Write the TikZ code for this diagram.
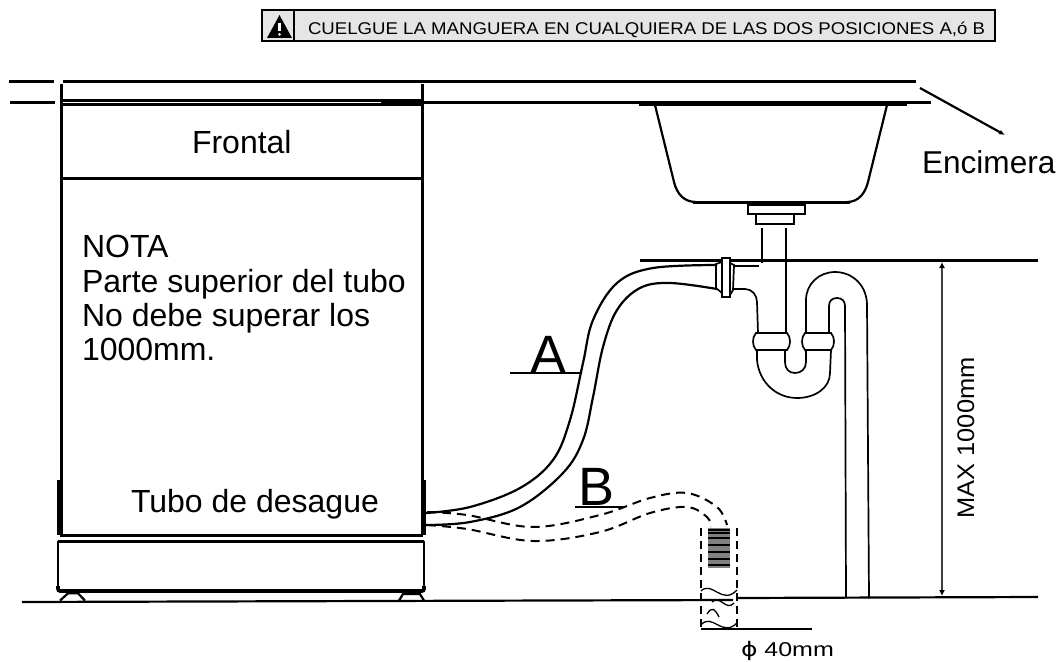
\documentclass[tikz,border=0pt]{standalone}
\usepackage{fontspec}
\usetikzlibrary{arrows.meta}
\setmainfont{Liberation Sans}
\newfontfamily\phifont{DejaVu Sans}
\tikzset{
  heavy/.style={line width=3pt,black},
  medium/.style={line width=2.2pt,black},
  thinline/.style={line width=1.7pt,black},
  dashline/.style={line width=2pt,black,dash pattern=on 9pt off 6pt},
  label/.style={inner sep=0pt,outer sep=0pt,anchor=base west,font=\fontsize{32}{36}\selectfont},
  bigletter/.style={inner sep=0pt,outer sep=0pt,anchor=base west,font=\fontsize{54}{58}\selectfont},
}
\begin{document}
\begin{tikzpicture}[x=1pt,y=-1pt]
\useasboundingbox (0,0) rectangle (1057,661);
\fill[white] (0,0) rectangle (1057,661);
% banner
\draw[line width=2pt,fill=black!10] (262,10.5) rectangle (995,41);
\draw[line width=2pt] (294,10.5) -- (294,41);
\fill[black] (279.5,15) -- (292,38) -- (267,38) -- cycle;
\draw[white,line width=2.6pt] (279.5,23) -- (279.5,31);
\fill[white] (279.5,34.3) circle (1.5);
\node[label,font=\fontsize{17}{20}\selectfont] (banner) at (308,34.5) {\scalebox{1.096}[1]{CUELGUE LA MANGUERA EN CUALQUIERA DE LAS DOS POSICIONES A,ó B}};
% counter
\draw[heavy] (9,81) -- (54,81);
\draw[heavy] (63,81) -- (916,81);
\draw[heavy] (10,102) -- (55,102);
\draw[heavy] (422,102) -- (931,102);
\draw[line width=4.5pt] (639,104) -- (907,104);
% cabinet
\draw[heavy] (61,84) -- (61,535) (422,84) -- (422,535);
\draw[heavy] (61,100) -- (422,100) (61,104.3) -- (422,104.3);
\fill[black] (381,99) rectangle (422,105.5);
\draw[heavy] (61,178) -- (422,178);
\draw[line width=5pt] (59.5,480) -- (59.5,535) (423.5,480) -- (423.5,535);
\draw[heavy] (60,535.7) -- (423,535.7);
\draw[heavy] (58,541) -- (424,541);
\draw[line width=2.6pt] (58,541) -- (58,588) (424,541) -- (424,588);
\draw[line width=3.6pt,rounded corners=2pt] (58,586) -- (58,591) -- (424,591) -- (424,586);
\draw[medium] (60,600.6) -- (68,593.3) -- (78,593.3) -- (85,600.6);
\draw[medium] (399,600.6) -- (403,594) -- (420,594) -- (424,600.6);
% floor
\draw[medium] (22,602) -- (733,600);
\draw[medium] (737,598) -- (1038,597);
% sink
\draw[medium] (655,105) -- (674,182) .. controls (677,194) and (684,202) .. (696,202);
\draw[medium] (887,105) -- (868,182) .. controls (865,194) and (858,202) .. (847,202);
\draw[line width=3pt] (693,202) -- (850,202);
\draw[thinline] (748,205) rectangle (805,214);
\draw[thinline] (756,214) rectangle (794,224);
% waste pipe
\draw[thinline] (762,228) -- (762,263);
\draw[thinline] (786,228) -- (786,333);
\draw[heavy] (640,260) -- (1038,260);
% hose connector
\draw[thinline] (722,262) -- (716,264) -- (716,288) -- (722,293);
\draw[thinline] (730,263) -- (734,265) -- (733,290) -- (730,295);
\draw[thinline,fill=white] (722,258) rectangle (730,297);
\draw[thinline] (734,266) -- (759,266);
\draw[thinline] (733,289) -- (745,289) .. controls (752,289) and (757,295) .. (757,302) -- (758,333);
% couplings
\draw[thinline] (756,333) -- (787,333) .. controls (791,337) and (791,346) .. (787,350) -- (756,350) .. controls (752,346) and (752,337) .. (756,333) -- cycle;
\draw[thinline] (805,333) -- (831,333) .. controls (835,337) and (835,346) .. (831,350) -- (805,350) .. controls (801,346) and (801,337) .. (805,333) -- cycle;
% trap
\draw[thinline] (757,350) -- (757,360) .. controls (759,382) and (776,398) .. (797,398) .. controls (815,398) and (830,388) .. (830,373) -- (831,350);
\draw[thinline] (785,350) -- (785,362) .. controls (785,369) and (789,373) .. (795,373) .. controls (801,373) and (806,369) .. (806,362) -- (806,350);
% riser
\draw[thinline] (806,333) -- (806,300) .. controls (806,284) and (819,272) .. (835,272) .. controls (853,272) and (867,286) .. (867,305) -- (869,598);
\draw[thinline] (829,333) -- (829,306) .. controls (829,301) and (832,298) .. (837,298) .. controls (842,298) and (845,301) .. (845,306) -- (846,598);
% hose A
\draw[medium] plot[smooth,tension=.6] coordinates {(426,513) (470,507) (520,488) (553,460) (570,420) (583,363) (593,320) (617,283) (653,268) (717,265)};
\draw[medium] plot[smooth,tension=.6] coordinates {(426,525) (470,522) (520,507) (563,473) (583,440) (593,397) (603,347) (617,310) (640,288) (670,283) (717,289)};
\draw[medium] (510,373) -- (582,373);
\node[bigletter] (labelA) at (530,373) {A};
% hose B
\draw[dashline] plot[smooth,tension=.6] coordinates {(427,512) (467,515) (533,527) (600,515) (650,498) (687,493) (717,507) (727,525)};
\draw[dashline] plot[smooth,tension=.6] coordinates {(427,525) (467,529) (533,541) (600,532) (650,513) (687,507) (707,517) (711,527)};
\draw[medium] (575,507) -- (625,507);
\node[bigletter] (labelB) at (578,505) {B};
% tube in the floor
\fill[black!50] (708,528) rectangle (730,568);
\draw[line width=1.2pt] (708,530) -- (730,530) (708,533) -- (730,533) (708,538) -- (730,538) (708,545) -- (730,545) (708,552) -- (730,552) (708,559) -- (730,559) (708,565) -- (730,565);
\draw[dashline,dash pattern=on 8pt off 5pt] (701,528) -- (701,628);
\draw[dashline,dash pattern=on 8pt off 5pt] (737,528) -- (737,628);
\draw[medium] (701,629) -- (812,629);
\draw[line width=1.3pt] (701,591) .. controls (712,580) and (722,606) .. (737,590);
\draw[line width=1.3pt] (712,602) .. controls (720,594) and (726,612) .. (734,603);
\draw[line width=1.3pt] (707,614) .. controls (712,606) and (715,609) .. (719,617);
\draw[line width=1.3pt] (701,625) .. controls (712,612) and (722,638) .. (737,623);
% dimension
\draw[line width=1.5pt,black!75,{Latex[black,length=6pt,width=6pt]}-{Latex[black,length=6pt,width=6pt]}] (942,262) -- (942,596);
\node[inner sep=0pt,outer sep=0pt,rotate=90,anchor=base,font=\fontsize{24}{28}\selectfont] (dim) at (974,438) {\scalebox{1.06}[1]{MAX 1000mm}};
% encimera
\draw[medium,-{Latex[length=6pt,width=5pt]}] (920,88) -- (1005,135);
\node[label,font=\fontsize{31.6}{36}\selectfont] (encimera) at (922,173) {Encimera};
% texts
\node[label] (frontal) at (192,153) {Frontal};
\node[label] (nota) at (82,257.5) {NOTA};
\node[label] (nota2) at (82,292.5) {Parte superior del tubo};
\node[label] (nota3) at (82,326.5) {No debe superar los};
\node[label] (nota4) at (82,360.5) {1000mm.};
\node[label] (tubo) at (131,512) {Tubo de desague};
\node[label,font=\fontsize{20}{24}\selectfont] (phi) at (741,656) {\scalebox{1.25}[1]{{\phifont ϕ} 40mm}};
\end{tikzpicture}
\end{document}
